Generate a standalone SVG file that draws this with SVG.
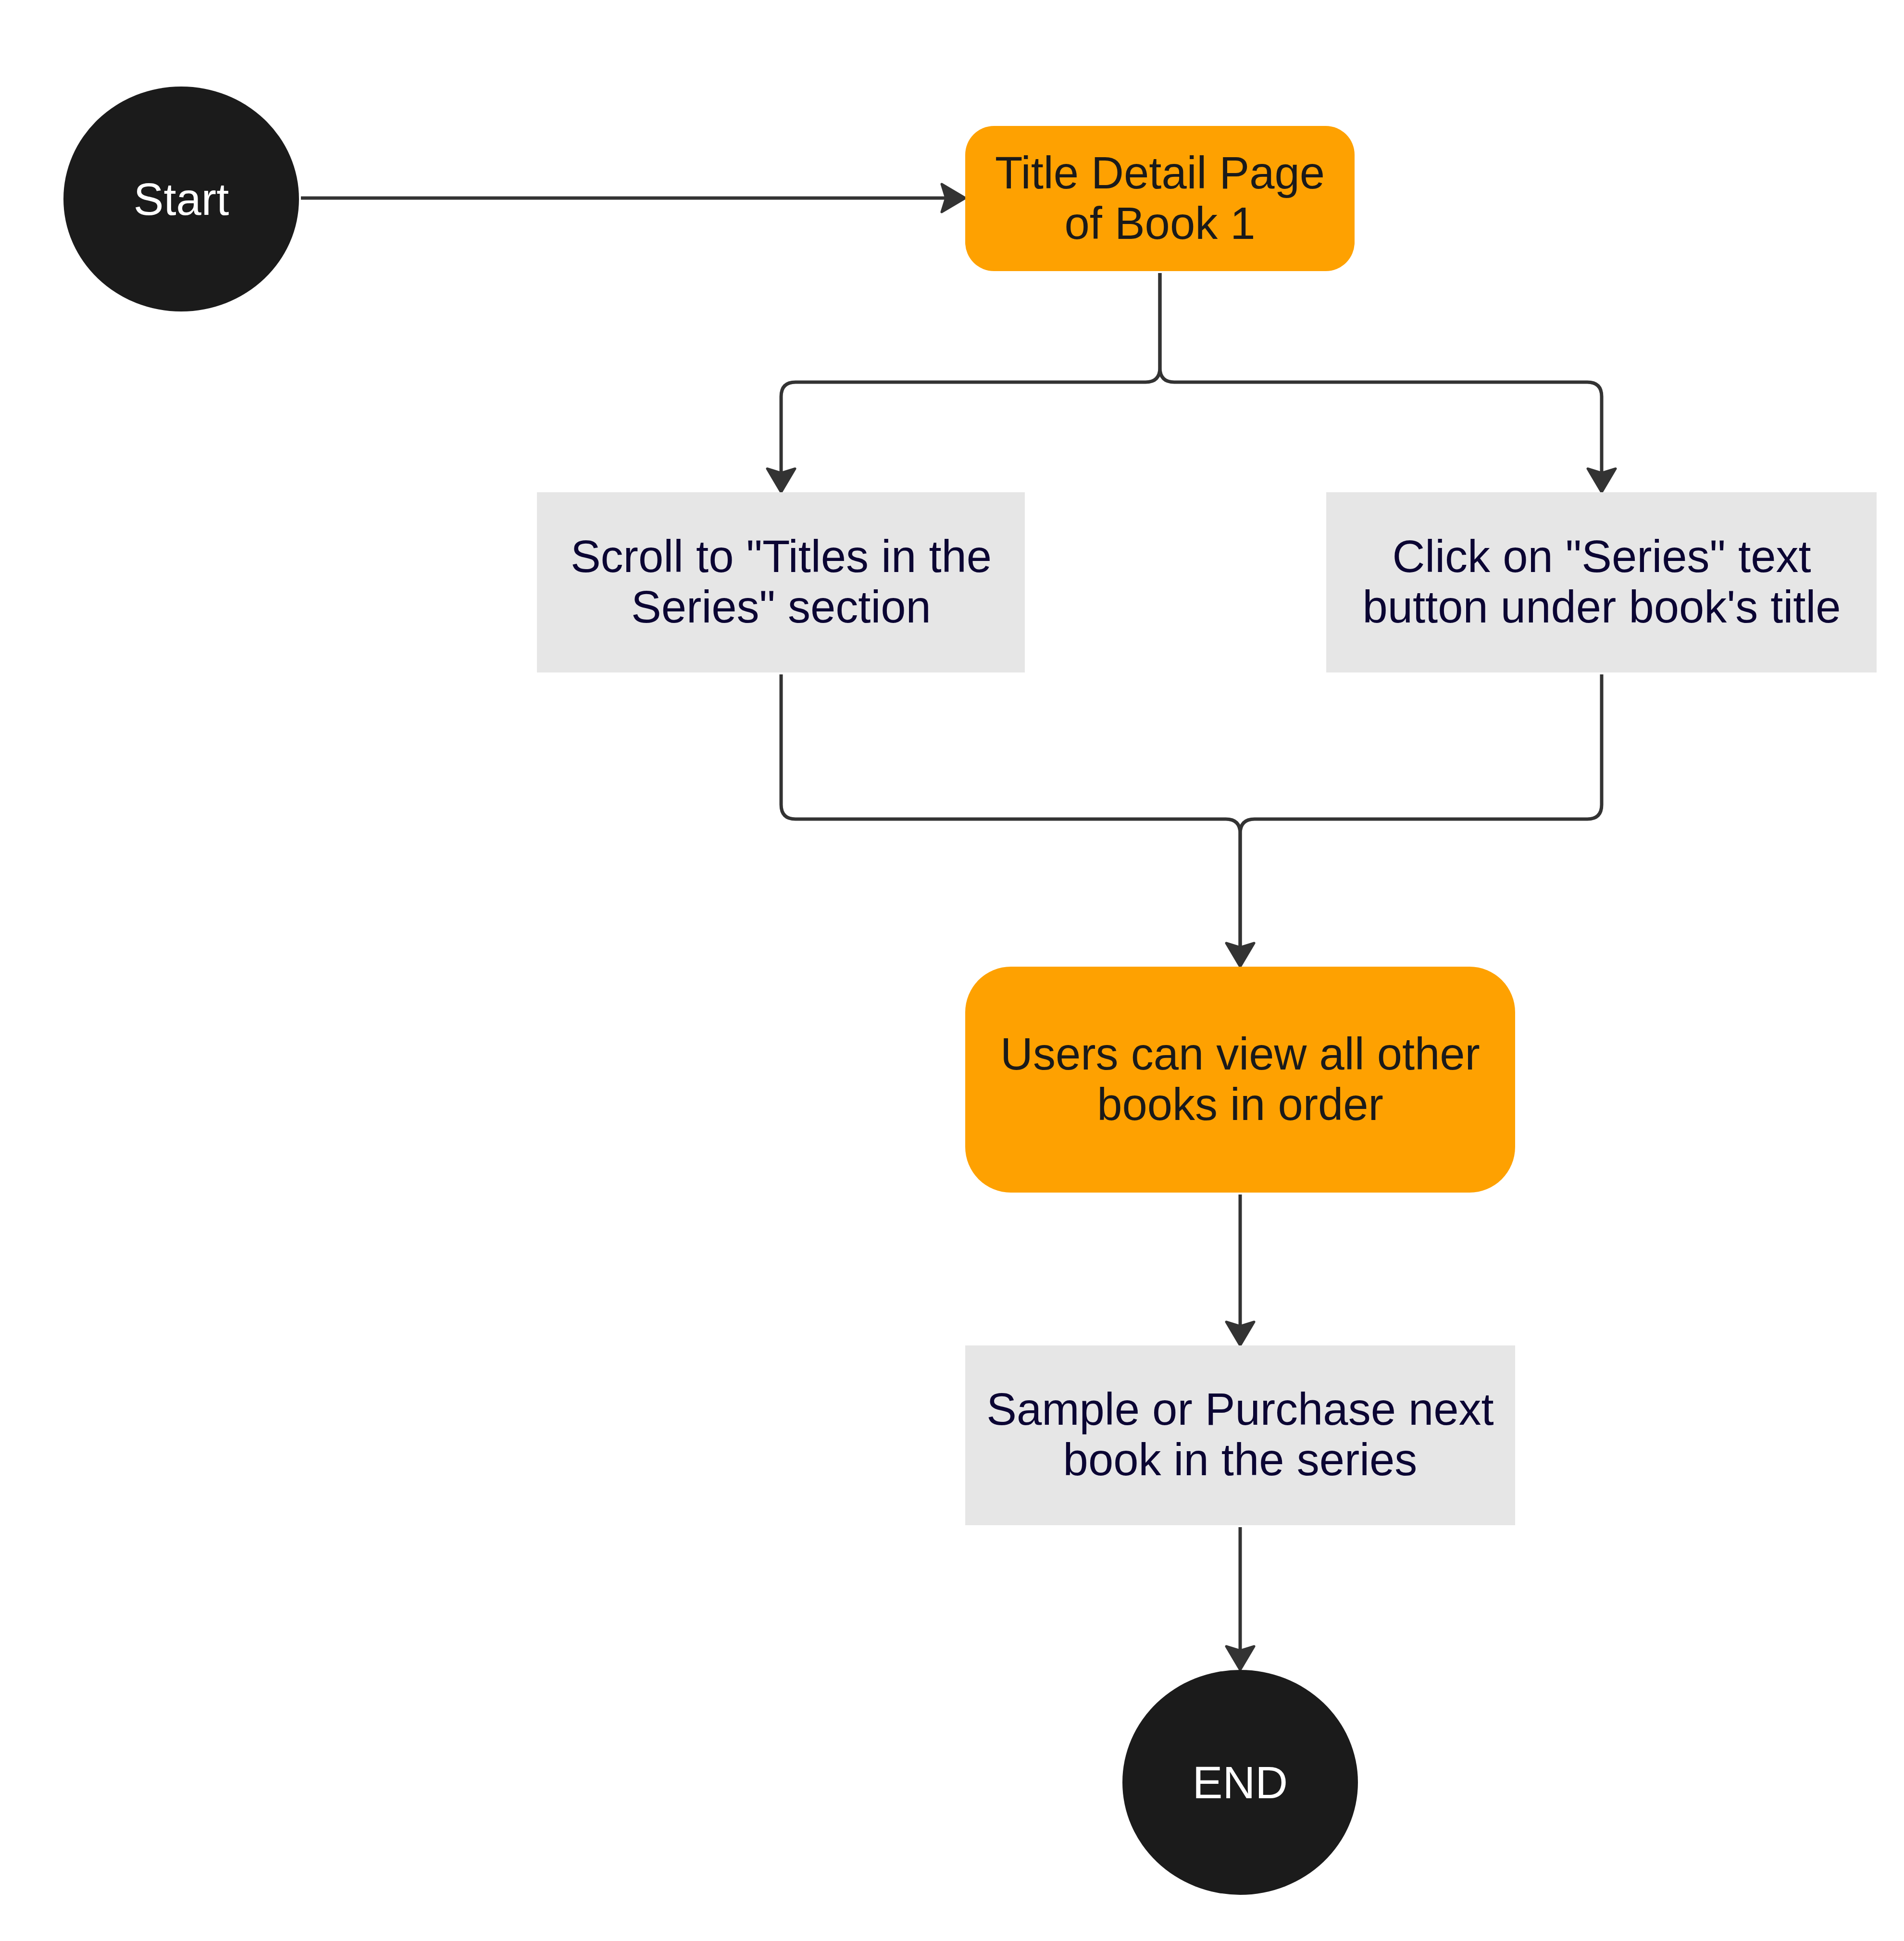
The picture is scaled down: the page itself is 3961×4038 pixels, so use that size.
<svg xmlns="http://www.w3.org/2000/svg" width="3961" height="4038" viewBox="0 0 3961 4038">
<style>
.term{fill:#1b1b1b}
.orange{fill:#fea101}
.gray{fill:#e6e6e6}
.t{font-family:"Liberation Sans",Arial,sans-serif;font-size:94px;text-anchor:middle}
.tw{fill:#ffffff}
.td{fill:#1a1a1a}
.tn{fill:#0b0533}
.edge{fill:none;stroke:#333333;stroke-width:7}
</style>
<defs>
<marker id="arrow" markerUnits="userSpaceOnUse" viewBox="-55 -36 62 72" markerWidth="62" markerHeight="72" refX="-40" refY="0" orient="auto">
<path d="M0 0 L-49 -29 L-40 0 L-49 29 Z" fill="#333333" stroke="#333333" stroke-width="5" stroke-linejoin="round"/>
</marker>
</defs>
<rect width="3961" height="4038" fill="#ffffff"/>
<g id="connectors">
<path class="edge" d="M626 412 L1968 412" marker-end="url(#arrow)"/>
<path class="edge" d="M2413 568 L2413 765 Q2413 795 2383 795 L1655 795 Q1625 795 1625 825 L1625 984" marker-end="url(#arrow)"/>
<path class="edge" d="M2413 568 L2413 765 Q2413 795 2443 795 L3302 795 Q3332 795 3332 825 L3332 984" marker-end="url(#arrow)"/>
<path class="edge" d="M1625 1403 L1625 1674 Q1625 1704 1655 1704 L2550 1704 Q2580 1704 2580 1734 L2580 1971" marker-end="url(#arrow)"/>
<path class="edge" d="M3332 1403 L3332 1674 Q3332 1704 3302 1704 L2610 1704 Q2580 1704 2580 1734 L2580 1971"/>
<path class="edge" d="M2580 2485 L2580 2759" marker-end="url(#arrow)"/>
<path class="edge" d="M2580 3177 L2580 3434" marker-end="url(#arrow)"/>
</g>
<g id="start">
<ellipse class="term" cx="377" cy="414" rx="245" ry="234"/>
<text class="t tw" x="377" y="447">Start</text>
</g>
<g id="title-detail">
<rect class="orange" x="2008" y="262" width="810" height="302" rx="60" ry="60"/>
<text class="t td" x="2413" y="392">Title Detail Page</text>
<text class="t td" x="2413" y="497">of Book 1</text>
</g>
<g id="scroll">
<rect class="gray" x="1117" y="1024" width="1015" height="375"/>
<text class="t tn" x="1625" y="1190">Scroll to "Titles in the</text>
<text class="t tn" x="1625" y="1295">Series" section</text>
</g>
<g id="click">
<rect class="gray" x="2759" y="1024" width="1145" height="375"/>
<text class="t tn" x="3332" y="1190">Click on "Series" text</text>
<text class="t tn" x="3332" y="1295">button under book's title</text>
</g>
<g id="users">
<rect class="orange" x="2008" y="2011" width="1144" height="470" rx="95" ry="95"/>
<text class="t td" x="2580" y="2225">Users can view all other</text>
<text class="t td" x="2580" y="2330">books in order</text>
</g>
<g id="sample">
<rect class="gray" x="2008" y="2799" width="1144" height="374"/>
<text class="t tn" x="2580" y="2964">Sample or Purchase next</text>
<text class="t tn" x="2580" y="3069">book in the series</text>
</g>
<g id="end">
<ellipse class="term" cx="2580" cy="3708" rx="245" ry="234"/>
<text class="t tw" x="2580" y="3741">END</text>
</g>
</svg>
